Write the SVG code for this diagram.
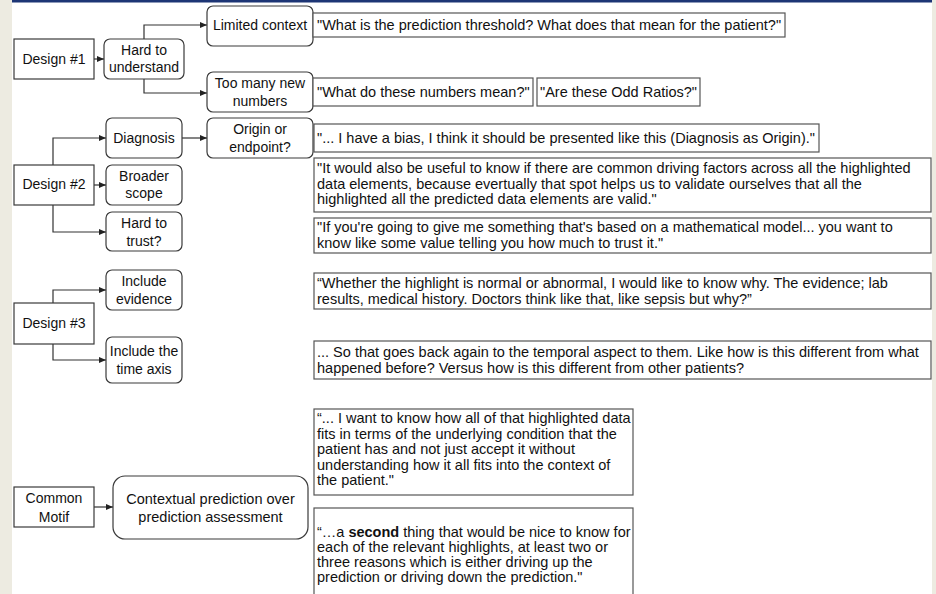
<svg xmlns="http://www.w3.org/2000/svg" width="936" height="594" viewBox="0 0 936 594">
<style>
.bg{fill:#edebe1}
.node{fill:#fff;stroke:#3a3a3a;stroke-width:1.2}
.quote{fill:#fff;stroke:#555;stroke-width:1.2}
.t{font-family:"Liberation Sans",Arial,Helvetica,sans-serif;font-size:14px;fill:#111}
.m{text-anchor:middle}
.q{font-size:14.5px}
.conn{fill:none;stroke:#333;stroke-width:1.2;marker-end:url(#arr)}
</style>
<defs>
<marker id="arr" markerWidth="7" markerHeight="6" refX="7" refY="3" orient="auto" markerUnits="userSpaceOnUse">
<path d="M0,0 L7,3 L0,6 z" fill="#222"/>
</marker>
</defs>
<rect class="bg" x="0" y="0" width="936" height="594"/>
<rect x="12" y="0" width="920" height="594" fill="#fff"/>
<rect x="12" y="0" width="920" height="2.5" fill="#1d3575"/>

<g id="connectors">
<path class="conn" d="M94,59 H104"/>
<path class="conn" d="M144,39 V25 H207"/>
<path class="conn" d="M144,79 V93 H207"/>
<path class="conn" d="M53,165 V138 H106"/>
<path class="conn" d="M182,138 H207"/>
<path class="conn" d="M94,185 H106"/>
<path class="conn" d="M53,205 V232 H106"/>
<path class="conn" d="M53,303 V290 H106"/>
<path class="conn" d="M53,344 V360 H106"/>
<path class="conn" d="M94,507 H113"/>
</g>

<g id="design1"><rect class="node" x="14" y="39" width="80" height="40"/><text class="t m" x="54" y="64">Design #1</text></g>
<g id="hard-understand"><rect class="node" x="104" y="39" width="80" height="40" rx="6"/><text class="t m" x="144" y="55">Hard to</text><text class="t m" x="144" y="72">understand</text></g>
<g id="limited-context"><rect class="node" x="207" y="6" width="106" height="40" rx="6"/><text class="t m" x="260" y="30">Limited context</text></g>
<g id="too-many"><rect class="node" x="207" y="72" width="106" height="40" rx="6"/><text class="t m" x="260" y="88">Too many new</text><text class="t m" x="260" y="106">numbers</text></g>
<g id="diagnosis"><rect class="node" x="106" y="118" width="76" height="40" rx="6"/><text class="t m" x="144" y="143">Diagnosis</text></g>
<g id="origin"><rect class="node" x="207" y="118" width="106" height="40" rx="6"/><text class="t m" x="260" y="134">Origin or</text><text class="t m" x="260" y="152">endpoint?</text></g>
<g id="design2"><rect class="node" x="14" y="165" width="80" height="40"/><text class="t m" x="54" y="189">Design #2</text></g>
<g id="broader"><rect class="node" x="106" y="165" width="76" height="40" rx="6"/><text class="t m" x="144" y="181">Broader</text><text class="t m" x="144" y="198">scope</text></g>
<g id="hard-trust"><rect class="node" x="106" y="212" width="76" height="39" rx="6"/><text class="t m" x="144" y="228">Hard to</text><text class="t m" x="144" y="246">trust?</text></g>
<g id="include-evidence"><rect class="node" x="106" y="270" width="76" height="40" rx="6"/><text class="t m" x="144" y="286">Include</text><text class="t m" x="144" y="304">evidence</text></g>
<g id="design3"><rect class="node" x="14" y="303" width="80" height="41"/><text class="t m" x="54" y="328">Design #3</text></g>
<g id="include-time"><rect class="node" x="106" y="337" width="76" height="46" rx="6"/><text class="t m" x="144" y="356">Include the</text><text class="t m" x="144" y="374">time axis</text></g>
<g id="common-motif"><rect class="node" x="14" y="487" width="80" height="40"/><text class="t m" x="54" y="503">Common</text><text class="t m" x="54" y="522">Motif</text></g>
<g id="contextual"><rect class="node" x="113" y="476" width="195" height="63" rx="12"/><text class="t m q" x="210.5" y="504">Contextual prediction over</text><text class="t m q" x="210.5" y="522">prediction assessment</text></g>

<g id="quote1"><rect class="quote" x="313" y="13" width="472" height="24"/><text class="t q" x="317" y="30">"What is the prediction threshold? What does that mean for the patient?"</text></g>
<g id="quote2a"><rect class="quote" x="313" y="78" width="220" height="28"/><text class="t q" x="317" y="97">"What do these numbers mean?"</text></g>
<g id="quote2b"><rect class="quote" x="537" y="78" width="163" height="28"/><text class="t q" x="540" y="97">"Are these Odd Ratios?"</text></g>
<g id="quote3"><rect class="quote" x="314" y="124" width="505" height="28"/><text class="t q" x="317" y="143">"... I have a bias, I think it should be presented like this (Diagnosis as Origin)."</text></g>
<g id="quote4"><rect class="quote" x="314" y="158" width="617" height="54"/><text class="t q" x="317" y="173">"It would also be useful to know if there are common driving factors across all the highlighted</text><text class="t q" x="317" y="188.5">data elements, because evertually that spot helps us to validate ourselves that all the</text><text class="t q" x="317" y="204">highlighted all the predicted data elements are valid."</text></g>
<g id="quote5"><rect class="quote" x="314" y="218" width="617" height="35"/><text class="t q" x="317" y="232">"If you're going to give me something that's based on a mathematical model... you want to</text><text class="t q" x="317" y="248">know like some value telling you how much to trust it."</text></g>
<g id="quote6"><rect class="quote" x="314" y="273" width="617" height="36"/><text class="t q" x="317" y="288">“Whether the highlight is normal or abnormal, I would like to know why. The evidence; lab</text><text class="t q" x="317" y="304">results, medical history. Doctors think like that, like sepsis but why?”</text></g>
<g id="quote7"><rect class="quote" x="314" y="341" width="617" height="38"/><text class="t q" x="317" y="357">... So that goes back again to the temporal aspect to them. Like how is this different from what</text><text class="t q" x="317" y="372.5">happened before? Versus how is this different from other patients?</text></g>
<g id="quote8"><rect class="quote" x="314" y="409" width="319" height="86"/><text class="t q" x="317" y="423">“... I want to know how all of that highlighted data</text><text class="t q" x="317" y="439">fits in terms of the underlying condition that the</text><text class="t q" x="317" y="454">patient has and not just accept it without</text><text class="t q" x="317" y="470">understanding how it all fits into the context of</text><text class="t q" x="317" y="485">the patient."</text></g>
<g id="quote9"><rect class="quote" x="314" y="508" width="319" height="95"/><text class="t q" x="317" y="537">“…a <tspan font-weight="bold">second</tspan> thing that would be nice to know for</text><text class="t q" x="317" y="552">each of the relevant highlights, at least two or</text><text class="t q" x="317" y="567">three reasons which is either driving up the</text><text class="t q" x="317" y="582">prediction or driving down the prediction."</text></g>
</svg>
